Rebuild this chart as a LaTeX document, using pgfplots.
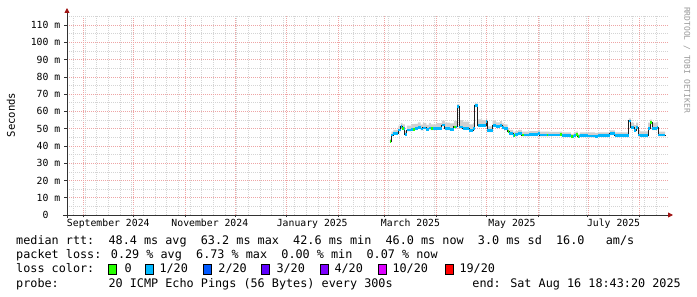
\documentclass[border=0pt]{standalone}
\usepackage{fontspec}
\setmainfont{DejaVu Sans Mono}
\usepackage{pgfplots}
\pgfplotsset{compat=1.18}
\usepackage{pgfplotstable}
\usepgfplotslibrary{fillbetween}
\usetikzlibrary{arrows.meta}

\definecolor{mgrid}{RGB}{238,165,165}
\definecolor{sgrid}{RGB}{212,212,212}
\definecolor{arrowred}{RGB}{160,20,20}
\definecolor{axisdark}{RGB}{50,50,50}
\definecolor{smoke}{RGB}{208,208,208}
\definecolor{medline}{RGB}{30,30,30}
\definecolor{lossA}{HTML}{26FF00}
\definecolor{lossB}{HTML}{00B8FF}
\definecolor{lossC}{HTML}{0059FF}
\definecolor{lossD}{HTML}{5E00FF}
\definecolor{lossE}{HTML}{7E00FF}
\definecolor{lossF}{HTML}{DD00FF}
\definecolor{lossG}{HTML}{FF0000}

\newcommand\legfont{\fontsize{11.8}{13}\selectfont}
\newcommand\tickfont{\fontsize{9.8}{11}\selectfont}

% d = days since 1 Sep 2024
\pgfplotstableread{
d med lo hi
184.2 42.6 41.8 44.1
185.1 46.3 45.5 48.3
186.3 47.3 46.5 49.3
189.2 49.2 48.4 51.7
190.8 51.3 50.5 53.3
191.7 50.0 49.2 52.5
193.2 46.7 45.9 48.7
194.4 49.2 48.4 51.7
197.1 49.6 48.8 52.6
199.0 50.2 49.4 52.7
201.0 50.6 49.8 53.6
202.6 49.8 49.0 52.3
204.0 50.4 49.6 53.4
206.0 49.7 48.9 52.2
207.5 50.3 49.5 53.3
208.8 50.0 49.2 52.5
212.0 50.2 49.4 53.2
215.4 52.1 51.3 54.6
217.2 50.0 49.2 53.5
220.2 49.6 48.8 53.1
222.6 51.0 50.2 54.5
224.7 62.7 61.9 64.2
225.9 51.0 50.2 55.0
228.0 50.1 49.3 54.1
231.7 48.9 48.1 52.4
234.1 50.0 49.2 53.5
235.0 63.2 62.4 64.7
236.8 51.8 51.0 55.3
239.5 52.0 51.2 55.0
241.9 54.0 53.2 55.5
242.5 48.8 48.0 51.3
245.8 51.8 51.0 54.8
247.9 51.2 50.4 53.7
250.3 51.8 51.0 54.3
251.5 50.5 49.7 53.0
252.7 50.0 49.2 52.5
254.8 48.5 47.7 50.5
255.7 47.3 46.5 49.3
258.1 46.1 45.3 48.1
259.5 46.6 45.8 48.6
261.1 47.3 46.5 49.3
263.5 46.3 45.5 48.3
268.0 46.5 45.7 48.5
273.1 47.3 46.5 49.3
274.3 46.3 45.5 48.3
280.0 46.4 45.6 48.1
286.3 46.6 45.8 48.3
287.5 45.9 45.1 47.9
292.9 45.3 44.5 47.0
294.7 45.9 45.1 47.9
295.9 46.8 46.0 48.3
297.1 45.5 44.7 47.0
298.3 45.9 45.1 47.9
303.0 45.8 45.0 47.8
307.3 45.5 44.7 47.5
309.1 45.9 45.1 47.9
316.3 47.0 46.2 49.0
319.3 45.9 45.1 47.9
327.7 54.5 53.7 56.0
328.9 50.5 49.7 53.5
330.8 49.0 48.2 52.0
332.0 50.5 49.7 53.5
333.2 46.3 45.5 48.8
334.4 45.9 45.1 48.4
339.2 50.0 49.2 53.5
340.4 53.7 52.9 55.2
341.6 50.0 49.2 53.5
344.6 50.5 49.7 54.0
345.2 46.3 45.5 48.3
349.4 46.0 45.2 48.0
}\median

% segments with zero loss
\pgfplotstableread{
d y
184.2 42.6
185.0 42.6
nan nan
191.7 50.0
192.6 50.0
nan nan
198.0 49.6
199.0 49.6
nan nan
208.8 50.0
209.8 50.0
nan nan
222.6 51.0
223.8 51.0
nan nan
254.8 48.5
255.7 48.5
nan nan
258.6 46.1
259.4 46.1
nan nan
263.5 46.3
264.6 46.3
nan nan
278.3 46.4
279.3 46.4
nan nan
286.3 46.6
287.4 46.6
nan nan
292.9 45.3
294.0 45.3
nan nan
295.9 46.8
297.1 46.8
nan nan
297.1 45.5
298.0 45.5
nan nan
340.4 53.7
341.6 53.7
}\greenseg

\begin{document}
\begin{tikzpicture}
\begin{axis}[
  at={(0pt,0pt)}, anchor=south west,
  scale only axis, width=601pt, height=200pt,
  xmin=-9.8, xmax=351.2, ymin=0, ymax=115.8,
  axis line style={draw=none},
  xtick={0,30,61,91,122,153,181,212,242,273,303,334},
  xticklabels={,,,,,,,,,,,},
  minor xtick={-6,1,...,344},
  ytick={0,10,...,110},
  yticklabels={0\phantom{~m},10~m,20~m,30~m,40~m,50~m,60~m,70~m,80~m,90~m,100~m,110~m},
  minor ytick={5,15,...,115},
  grid=both,
  major grid style={mgrid, dash pattern=on 1pt off 1pt, line width=0.5pt},
  minor grid style={sgrid, dash pattern=on 1pt off 1pt, line width=0.5pt},
  tick style={axisdark, line width=0.6pt},
  major tick length=2.5pt, minor tick length=0pt,
  tick align=outside, tick pos=left,
  yticklabel style={font=\tickfont, anchor=east, inner sep=0pt, xshift=-4pt},
  extra x ticks={15,76,137.5,196.5,257.5,318.5},
  extra x tick labels={September 2024,November 2024,January 2025,March 2025,May 2025,July 2025},
  extra x tick style={grid=none, major tick length=0pt,
     xticklabel style={font=\tickfont, anchor=north, inner sep=0pt, yshift=-4pt}},
  unbounded coords=jump,
  clip=true,
]
\addplot[name path=hi, draw=none, const plot, forget plot] table[x=d, y=hi] {\median};
\addplot[name path=lo, draw=none, const plot, forget plot] table[x=d, y=lo] {\median};
\addplot[smoke, forget plot] fill between[of=hi and lo];
\addplot[medline, line width=1pt, const plot, forget plot] table[x=d, y=med] {\median};
\addplot[lossB, line width=2.7pt, jump mark left, forget plot] table[x=d, y=med] {\median};
\addplot[lossA, line width=2.7pt, forget plot] table[x=d, y=y] {\greenseg};
\end{axis}

\begin{scope}[x=1pt, y=1pt]
\useasboundingbox (-67,-82) rectangle (630,215);
% axis lines with arrows
\draw[axisdark, line width=0.9pt, -{Triangle[length=5pt, width=5pt, color=arrowred, fill=arrowred]}] (-4,0) -- (606,0);
\draw[axisdark, line width=0.9pt, -{Triangle[length=5pt, width=5pt, color=arrowred, fill=arrowred]}] (0,-3.5) -- (0,207);

% y label
\node[rotate=90, font=\fontsize{10.6}{12}\selectfont, inner sep=0pt] at (-56,100) {Seconds};

% watermark
\node[rotate=-90, font=\fontsize{8}{9}\selectfont, text=black!40, inner sep=0pt] at (620,155) {RRDTOOL / TOBI OETIKER};

% legend lines
\node[anchor=base west, inner sep=0pt, font=\legfont] at (-51,-30)
  {median rtt:~~48.4 ms avg~~63.2 ms max~~42.6 ms min~~46.0 ms now~~3.0 ms sd~~16.0~~~am/s};
\node[anchor=base west, inner sep=0pt, font=\legfont] at (-51,-44)
  {packet loss: 0.29 \% avg~~6.73 \% max~~0.00 \% min~~0.07 \% now};
\node[anchor=base west, inner sep=0pt, font=\legfont] at (-51,-58) {loss color:};
\filldraw[fill=lossA, draw=black, line width=0.6pt] (41,-59) rectangle (49,-49.5);
\filldraw[fill=lossB, draw=black, line width=0.6pt] (78.5,-59) rectangle (86.5,-49.5);
\filldraw[fill=lossC, draw=black, line width=0.6pt] (136.5,-59) rectangle (144.5,-49.5);
\filldraw[fill=lossD, draw=black, line width=0.6pt] (194.5,-59) rectangle (202.5,-49.5);
\filldraw[fill=lossE, draw=black, line width=0.6pt] (253,-59) rectangle (261,-49.5);
\filldraw[fill=lossF, draw=black, line width=0.6pt] (311,-59) rectangle (319,-49.5);
\filldraw[fill=lossG, draw=black, line width=0.6pt] (378,-59) rectangle (386,-49.5);
\node[anchor=base west, inner sep=0pt, font=\legfont] at (57.5,-58) {0};
\node[anchor=base west, inner sep=0pt, font=\legfont] at (92.3,-58) {1/20};
\node[anchor=base west, inner sep=0pt, font=\legfont] at (151.2,-58) {2/20};
\node[anchor=base west, inner sep=0pt, font=\legfont] at (209.3,-58) {3/20};
\node[anchor=base west, inner sep=0pt, font=\legfont] at (267.3,-58) {4/20};
\node[anchor=base west, inner sep=0pt, font=\legfont] at (325.3,-58) {10/20};
\node[anchor=base west, inner sep=0pt, font=\legfont] at (392.3,-58) {19/20};
\node[anchor=base west, inner sep=0pt, font=\legfont] at (-51,-73)
  {probe:~~~~~~~20 ICMP Echo Pings (56 Bytes) every 300s};
\node[anchor=base east, inner sep=0pt, font=\legfont] at (614,-73)
  {end: Sat Aug 16 18:43:20 2025};
\end{scope}
\end{tikzpicture}
\end{document}
